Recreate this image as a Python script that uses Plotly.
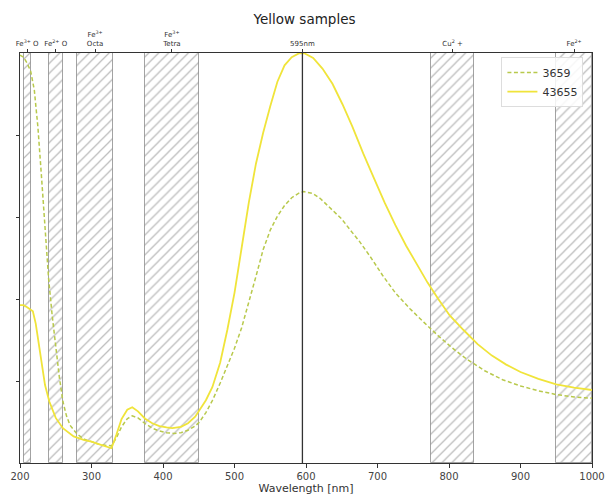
import plotly.graph_objects as go

# ---- data ----
wl_a = [200, 205, 210, 215, 220, 225, 230, 235, 240, 245, 250, 255, 260, 265, 270, 280, 290, 300,
        310, 320, 328, 335, 342, 350, 357, 365, 375, 385, 395, 405, 415, 425, 435, 445, 451, 460,
        469, 480, 490, 500, 510, 520, 530, 540, 550, 560, 570, 580, 590, 597, 610, 620, 637, 650,
        662, 675, 690, 707, 725, 745, 765, 785, 805, 825, 850, 875, 900, 925, 950, 975, 1000]
s3659 = [0.995, 0.99, 0.975, 0.955, 0.91, 0.82, 0.70, 0.58, 0.45, 0.36, 0.28, 0.21, 0.15, 0.115,
         0.092, 0.07, 0.058, 0.052, 0.046, 0.043, 0.042, 0.062, 0.088, 0.108, 0.115, 0.11, 0.096,
         0.085, 0.078, 0.074, 0.072, 0.074, 0.08, 0.09, 0.10, 0.123, 0.152, 0.195, 0.237, 0.28,
         0.33, 0.39, 0.455, 0.52, 0.568, 0.602, 0.628, 0.647, 0.658, 0.662, 0.657, 0.645, 0.618,
         0.595, 0.568, 0.54, 0.503, 0.458, 0.415, 0.377, 0.343, 0.31, 0.28, 0.253, 0.225, 0.203,
         0.188, 0.176, 0.167, 0.161, 0.158]

wl_b = [200, 205, 210, 215, 218, 222, 226, 230, 235, 241, 250, 260, 275, 290, 300, 310, 320, 328,
        335, 342, 350, 357, 365, 375, 385, 395, 405, 413, 425, 435, 445, 451, 460, 469, 480, 490,
        500, 510, 520, 530, 540, 550, 560, 570, 580, 590, 597, 610, 623, 637, 651, 665, 680, 695,
        710, 725, 740, 755, 770, 785, 801, 820, 840, 860, 880, 900, 925, 950, 975, 1000]
s43655 = [0.385, 0.385, 0.38, 0.375, 0.37, 0.34, 0.29, 0.24, 0.19, 0.15, 0.11, 0.085, 0.065,
          0.056, 0.052, 0.046, 0.04, 0.036, 0.07, 0.107, 0.13, 0.136, 0.126, 0.108, 0.097, 0.09,
          0.087, 0.085, 0.088, 0.097, 0.113, 0.128, 0.153, 0.185, 0.245, 0.325, 0.415, 0.525,
          0.635, 0.73, 0.805, 0.87, 0.93, 0.97, 0.99, 0.999, 1.0, 0.988, 0.962, 0.925, 0.875,
          0.82, 0.755, 0.695, 0.635, 0.58, 0.53, 0.485, 0.44, 0.40, 0.36, 0.325, 0.29, 0.262,
          0.24, 0.222, 0.205, 0.192, 0.184, 0.178]

band_start = [205, 240, 280, 375, 775, 950]
band_end = [215, 260, 330, 450, 835, 1000]

marker_lines = [595]

top_tick_vals = [210, 250, 305, 412.5, 595, 805, 975]
top_tick_text = ["Fe<sup>3+</sup> O", "Fe<sup>2+</sup> O", "Fe<sup>3+</sup><br>Octa",
                 "Fe<sup>3+</sup><br>Tetra", "595nm", "Cu<sup>2</sup> +", "Fe<sup>2+</sup>"]

bottom_ticks = [200, 300, 400, 500, 600, 700, 800, 900, 1000]

# ---- figure ----
fig = go.Figure()

centers = [(a + b) / 2 for a, b in zip(band_start, band_end)]
widths = [b - a for a, b in zip(band_start, band_end)]
fig.add_trace(go.Bar(
    x=centers, y=[1] * len(centers), width=widths, base=0,
    marker=dict(color="rgba(255,255,255,0)",
                line=dict(color="rgba(140,140,140,0.8)", width=1),
                pattern=dict(shape="/", fgcolor="#7a7a7a", bgcolor="rgba(255,255,255,0)",
                             size=7, solidity=0.18)),
    showlegend=False, hoverinfo="skip"))

fig.add_trace(go.Scatter(x=wl_a, y=s3659, mode="lines", name="3659",
                         line=dict(color="#b8c94c", width=1.5, dash="4px,2.5px")))
fig.add_trace(go.Scatter(x=wl_b, y=s43655, mode="lines", name="43655",
                         line=dict(color="#f0e43a", width=1.8)))

# invisible trace to activate the top axis
fig.add_trace(go.Scatter(x=[200, 1000], y=[0, 0], xaxis="x2", mode="markers",
                         marker=dict(opacity=0), showlegend=False, hoverinfo="skip"))

for v in marker_lines:
    fig.add_vline(x=v, line=dict(color="#333333", width=1.3))

fig.update_layout(
    width=609, height=495,
    margin=dict(l=20, r=17, t=53, b=32, autoexpand=False),
    paper_bgcolor="white", plot_bgcolor="white",
    font=dict(family="DejaVu Sans", color="#333333"),
    title=dict(text="Yellow samples", x=0.5, xanchor="center", y=0.962, yanchor="middle",
               font=dict(size=13.5, color="#222222")),
    barmode="overlay",
    bargap=0,
    showlegend=True,
    legend=dict(x=0.985, y=0.99, xanchor="right", yanchor="top",
                bgcolor="rgba(255,255,255,0.85)", bordercolor="#dddddd", borderwidth=1,
                font=dict(size=11, color="#333333"), tracegroupgap=2, itemwidth=30),
    xaxis=dict(range=[200, 1000], tickvals=bottom_ticks, ticks="outside", ticklen=4,
               tickcolor="#333333", tickfont=dict(size=10, color="#444444"),
               showgrid=False, zeroline=False, showline=True, linecolor="#333333",
               linewidth=1, mirror=False, automargin=False,
               title=dict(text="Wavelength [nm]", font=dict(size=11, color="#333333"),
                          standoff=4)),
    xaxis2=dict(range=[200, 1000], overlaying="x", side="top", tickvals=top_tick_vals,
                ticktext=top_tick_text, ticks="outside", ticklen=3, tickcolor="#333333",
                tickfont=dict(size=7, color="#333333"), showgrid=False, zeroline=False,
                showline=True, linecolor="#333333", linewidth=1, automargin=False),
    yaxis=dict(range=[0, 1], tickvals=[0.2, 0.4, 0.6, 0.8], showticklabels=False,
               ticks="outside", ticklen=3, tickcolor="#333333", showgrid=False,
               zeroline=False, showline=True, linecolor="#333333", linewidth=1, mirror=True,
               automargin=False),
)

fig.write_html("out.html", config={"displayModeBar": False},
               post_script="document.body.style.margin='0px';document.body.style.padding='0px';")
